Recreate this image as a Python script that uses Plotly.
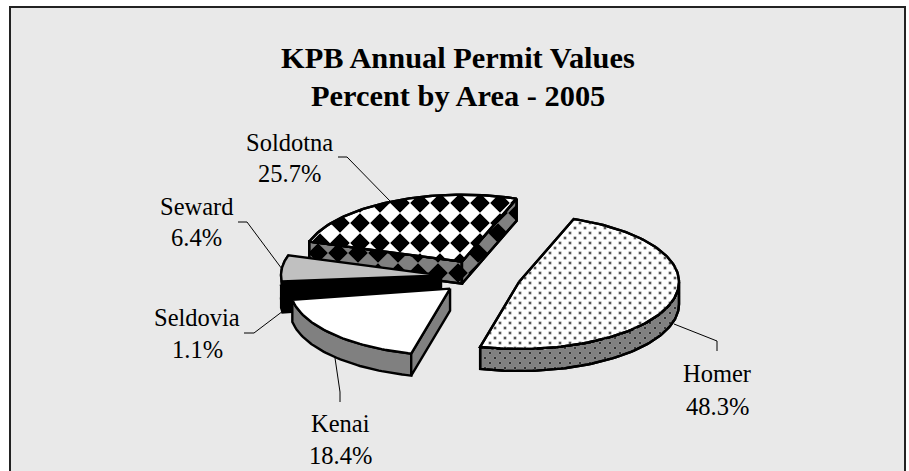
import numpy as np
import plotly.graph_objects as go

names = ["Homer", "Kenai", "Seldovia", "Seward", "Soldotna"]
percents = [48.3, 18.4, 1.1, 6.4, 25.7]

# pie projection (style)
CX, CY = 480.0, 277.0
RX, RY = 160.0, 67.0
DEPTH = 22.0
EXPLODE = 0.255
START_DEG = 20.0
GAP = {"Seldovia": 0.25, "Seward": 0.245}
OUT = dict(color="black", width=2.4)
BG = "#e9e9e9"


def pt(theta, k=1.0):
    return np.array([RX * np.sin(theta) * k, -RY * np.cos(theta) * k])


def clip_convex(subject, clip):
    # Sutherland-Hodgman clip of polygon by a convex polygon
    area = 0.0
    for i in range(len(clip)):
        a, b = clip[i], clip[(i + 1) % len(clip)]
        area += a[0] * b[1] - b[0] * a[1]
    sgn = 1 if area > 0 else -1
    out = list(subject)
    for i in range(len(clip)):
        a, b = clip[i], clip[(i + 1) % len(clip)]
        inp, out = out, []
        if not inp:
            break
        side = lambda p: sgn * ((b[0] - a[0]) * (p[1] - a[1]) - (b[1] - a[1]) * (p[0] - a[0]))
        for j in range(len(inp)):
            p, q = inp[j], inp[(j + 1) % len(inp)]
            sp, sq = side(p), side(q)
            if sp >= 0:
                out.append(p)
            if sp * sq < 0:
                t = sp / (sp - sq)
                out.append((p[0] + t * (q[0] - p[0]), p[1] + t * (q[1] - p[1])))
    return out


def inside(p, poly):
    x, y = p
    c = False
    n = len(poly)
    for i in range(n):
        x1, y1 = poly[i]
        x2, y2 = poly[(i + 1) % n]
        if (y1 > y) != (y2 > y) and x < (x2 - x1) * (y - y1) / (y2 - y1) + x1:
            c = not c
    return c


fig = go.Figure()


def poly(points, fill, line=OUT):
    pts = [tuple(p) for p in points] + [tuple(points[0])]
    fig.add_trace(go.Scatter(x=[p[0] for p in pts], y=[p[1] for p in pts], mode="lines", fill="toself",
                             fillcolor=fill, line=line, hoverinfo="skip", showlegend=False))


def outline(points):
    pts = [tuple(p) for p in points] + [tuple(points[0])]
    fig.add_trace(go.Scatter(x=[p[0] for p in pts], y=[p[1] for p in pts], mode="lines",
                             line=OUT, hoverinfo="skip", showlegend=False))


def diamonds(region, phase_x, phase_y, step=20, half=9.8):
    xs, ys = [], []
    rx = [p[0] for p in region]
    ry = [p[1] for p in region]
    for gx in np.arange(np.floor((min(rx) - phase_x) / step) - 1, np.ceil((max(rx) - phase_x) / step) + 2):
        for gy in np.arange(np.floor((min(ry) - phase_y) / step) - 1, np.ceil((max(ry) - phase_y) / step) + 2):
            x0, y0 = phase_x + gx * step, phase_y + gy * step
            d = [(x0 - half, y0), (x0, y0 - half), (x0 + half, y0), (x0, y0 + half)]
            c = clip_convex(d, [tuple(p) for p in region])
            if len(c) >= 3:
                xs += [p[0] for p in c] + [c[0][0], None]
                ys += [p[1] for p in c] + [c[0][1], None]
    fig.add_trace(go.Scatter(x=xs, y=ys, mode="lines", fill="toself", fillcolor="black",
                             line=dict(width=0, color="black"), hoverinfo="skip", showlegend=False))


def dots(region, phase_x, phase_y, color, halo):
    xs, ys = [], []
    rx = [p[0] for p in region]
    ry = [p[1] for p in region]
    for iy, y0 in enumerate(np.arange(phase_y - 400, phase_y + 400, 5.0)):
        off = 5.0 if iy % 2 else 0.0
        if y0 < min(ry) or y0 > max(ry):
            continue
        for x0 in np.arange(phase_x - 400 + off, phase_x + 400, 10.0):
            if x0 < min(rx) or x0 > max(rx):
                continue
            if inside((x0, y0), region):
                xs.append(x0)
                ys.append(y0)
    fig.add_trace(go.Scatter(x=xs, y=ys, mode="markers", marker=dict(size=3.4, color=color, line=dict(color=halo, width=0.8)),
                             hoverinfo="skip", showlegend=False))


# slice angles from the data
total = sum(percents)
angles = {}
a = np.radians(START_DEG)
for n, v in zip(names, percents):
    b = a + v / total * 2 * np.pi
    angles[n] = (a, b)
    a = b


def apex(n):
    t0, t1 = angles[n]
    mid = (t0 + t1) / 2
    return np.array([CX, CY]) + pt(mid, GAP.get(n, EXPLODE))


def sector(n, off=0.0, steps=60):
    t0, t1 = angles[n]
    ap = apex(n)
    arc = [ap + pt(t) for t in np.linspace(t0, t1, steps)]
    return ap, arc


def shift(points, d):
    return [p + np.array([0, d]) for p in points]


# Soldotna (back)
n = "Soldotna"
ap, arc = sector(n)
top = [ap] + arc
wall_r = [ap, arc[0], arc[0] + [0, DEPTH], ap + [0, DEPTH]]
wall_l = [ap, arc[-1], arc[-1] + [0, DEPTH], ap + [0, DEPTH]]
for w in (wall_r, wall_l):
    poly(w, "#808080")
    diamonds(w, -2.0, 13.0)
    outline(w)
poly(top, "white")
diamonds(top, 0.0, 3.0)
outline(top)

# Seward
n = "Seward"
ap, arc = sector(n)
wall = arc + shift(arc, DEPTH)[::-1]
poly(wall, "black")
poly([ap, arc[0], arc[0] + [0, DEPTH], ap + [0, DEPTH]], "black")
poly([ap] + arc, "#c0c0c0")

# Seldovia
n = "Seldovia"
ap, arc = sector(n)
poly(arc + shift(arc, DEPTH)[::-1], "black")
poly([ap, arc[0], arc[0] + [0, DEPTH], ap + [0, DEPTH]], "black")
poly([ap] + arc, "black")

# Homer
n = "Homer"
ap, arc = sector(n, steps=120)
front = [p for p, t in zip(arc, np.linspace(*angles[n], 120)) if t >= np.pi / 2]
wall = front + shift(front, DEPTH)[::-1]
poly(wall, "#808080")
dots(wall, 480.0, 303.0, "#333333", "#969696")
outline(wall)
top = [ap] + arc
poly(top, "white")
dots(top, 480.0, 303.0, "#555555", "#d4d4d4")
outline(top)

# Kenai (front)
n = "Kenai"
ap, arc = sector(n)
poly(arc + shift(arc, DEPTH)[::-1], "#808080")
poly([ap, arc[0], arc[0] + [0, DEPTH], ap + [0, DEPTH]], "#808080")
poly([ap] + arc, "white")

# frame
fig.add_shape(type="rect", x0=10, y0=7, x1=905, y1=480, fillcolor=BG, line=dict(color="#222222", width=2), layer="below")

# leader lines
leaders = {
    "Soldotna": [(338, 157), (347, 157), (390, 201)],
    "Seward": [(238, 222), (247, 222), (282, 269)],
    "Seldovia": [(244, 333), (254, 333), (283, 311)],
    "Kenai": [(335, 358), (340, 392), (340, 402)],
    "Homer": [(674, 324), (717, 341), (717, 351)],
}
for k, seg in leaders.items():
    fig.add_trace(go.Scatter(x=[p[0] for p in seg], y=[p[1] for p in seg], mode="lines",
                             line=dict(color="black", width=1), hoverinfo="skip", showlegend=False))

# labels
label_pos = {
    "Soldotna": (289, 142, 173),
    "Seward": (196, 206, 237),
    "Seldovia": (197, 317, 349),
    "Kenai": (340, 423, 455),
    "Homer": (717, 373, 406),
}
for nm, v in zip(names, percents):
    x, y1, y2 = label_pos[nm]
    for txt, y in ((nm, y1), (f"{v:.1f}%", y2)):
        fig.add_annotation(x=x, y=y, text=txt, showarrow=False, xanchor="center", yanchor="middle",
                           font=dict(family="Liberation Serif", size=24.5, color="black"))

for txt, y in (("KPB Annual Permit Values", 58), ("Percent by Area - 2005", 96)):
    fig.add_annotation(x=458, y=y, text=f"<b>{txt}</b>", showarrow=False, xanchor="center", yanchor="middle",
                       font=dict(family="Liberation Serif", size=30.4, color="black"))

fig.update_xaxes(range=[0, 909], visible=False, fixedrange=True)
fig.update_yaxes(range=[471, 0], visible=False, fixedrange=True)
fig.update_layout(width=909, height=471, margin=dict(l=0, r=0, t=0, b=0), paper_bgcolor="white",
                  plot_bgcolor="white", showlegend=False)
fig.write_html("out.html", config={"displayModeBar": False},
               post_script="document.body.style.margin='0';document.documentElement.style.overflow='hidden';")
